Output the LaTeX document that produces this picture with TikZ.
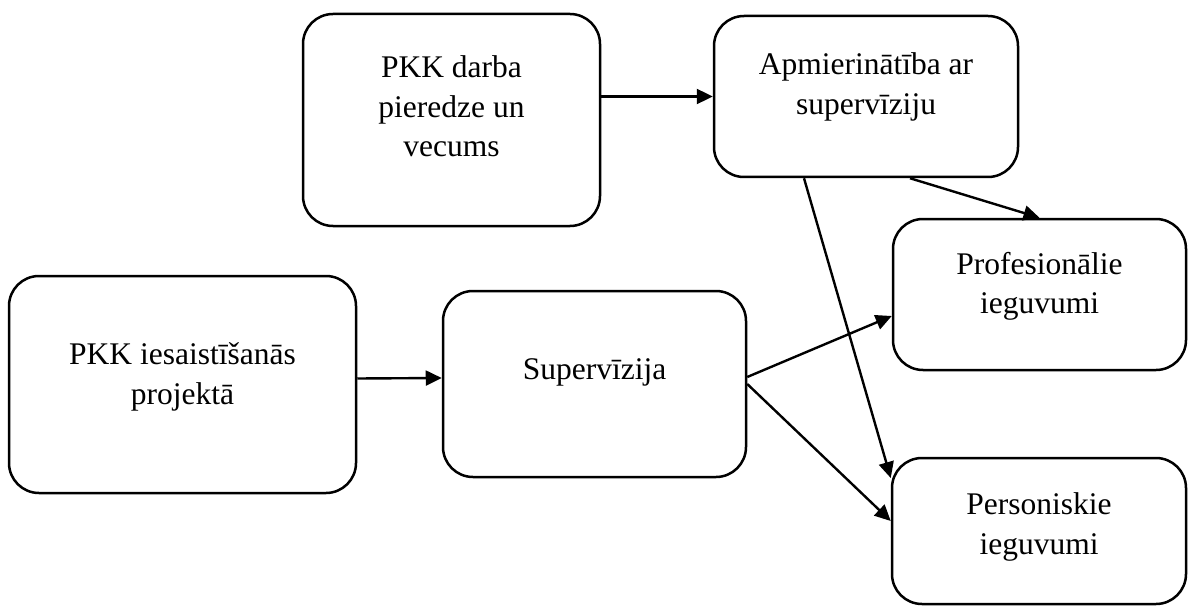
\documentclass[tikz,border=0pt]{standalone}
\usepackage{fontspec}
\setmainfont{Liberation Serif}
\usetikzlibrary{arrows.meta}
\begin{document}
\begin{tikzpicture}[x=1pt,y=-1pt,
    blok/.style={draw,line width=2.5pt,rounded corners=30pt,inner sep=0pt,
        font=\fontsize{31.5}{39.5}\selectfont},
    bulta/.style={line width=2.4pt,-{Triangle[length=16pt,width=15pt]}}]
    \useasboundingbox (0,0) rectangle (1192,607);
    \node[blok] (pieredze) at (451.5,120) {\parbox[c][212pt][t]{297pt}{\centering\vspace*{42pt}PKK darba\\ pieredze un\\ vecums}};
    \node[blok] (apmier) at (866,96.5) {\parbox[c][161pt][t]{304pt}{\centering\vspace*{37pt}Apmierinātība ar\\ supervīziju}};
    \node[blok] (prof) at (1039.5,294.5) {\parbox[c][151pt][t]{293pt}{\centering\vspace*{33pt}Profesionālie\\ ieguvumi}};
    \node[blok] (pers) at (1039,531) {\parbox[c][146pt][t]{294pt}{\centering\vspace*{35pt}Personiskie\\ ieguvumi}};
    \node[blok] (iesaiste) at (182.5,384.5) {\parbox[c][217pt][t]{347pt}{\centering\vspace*{67pt}PKK iesaistīšanās\\ projektā}};
    \node[blok] (superv) at (594.5,384) {\parbox[c][186pt][t]{303pt}{\centering\vspace*{68pt}Supervīzija}};
    % bultas
    \draw[bulta] (apmier.west -| pieredze.east) -- (apmier.west);
    \draw[bulta] ([yshift=6pt]iesaiste.east) -- ([yshift=6pt]superv.west);
    \draw[bulta] ([yshift=7pt]superv.east) -- ([yshift=-21.5pt]prof.west);
    \draw[bulta] (superv.east) -- ([yshift=10pt]pers.west);
    \draw[bulta] ([xshift=-62pt]apmier.south) -- ([yshift=53pt]pers.west);
    \draw[bulta] ([xshift=44pt]apmier.south) -- (prof.north);
\end{tikzpicture}
\end{document}
